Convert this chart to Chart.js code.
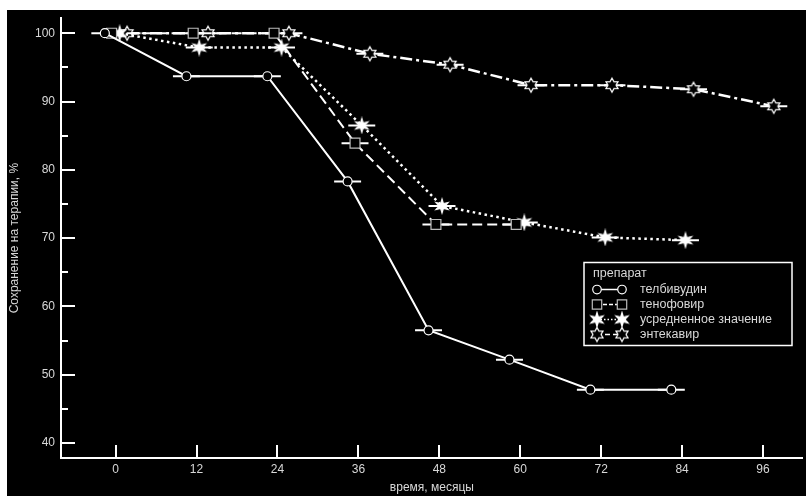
<!DOCTYPE html>
<html>
<head>
<meta charset="utf-8">
<script src="https://cdn.jsdelivr.net/npm/chart.js@4/dist/chart.umd.min.js"></script>
<style>
  html, body { margin: 0; padding: 0; background: #fff; overflow: hidden; }
  #wrap { position: absolute; left: 7px; top: 10px; width: 804px; height: 486px; }
</style>
</head>
<body>
<div id="wrap"><canvas id="chart" width="804" height="486"></canvas></div>
<script>
const xTicks = [0, 12, 24, 36, 48, 60, 72, 84, 96];
const yTicks = [40, 50, 60, 70, 80, 90, 100];
const yMinorTicks = [45, 55, 65, 75, 85, 95];

// months are slightly shifted per drug in the original, kept as read
const telbivudinMonths = [-1.6, 10.5, 22.5, 34.4, 46.4, 58.4, 70.4, 82.4];
const telbivudinValues = [100, 93.7, 93.7, 78.3, 56.5, 52.2, 47.8, 47.8];
const tenofovirMonths = [-0.6, 11.5, 23.5, 35.5, 47.5, 59.4];
const tenofovirValues = [100, 100, 100, 83.9, 72.0, 72.0];
const averageMonths = [0.6, 12.4, 24.6, 36.5, 48.4, 60.6, 72.6, 84.5];
const averageValues = [100, 97.9, 97.9, 86.5, 74.7, 72.3, 70.1, 69.7];
const entecavirMonths = [1.7, 13.7, 25.7, 37.7, 49.6, 61.6, 73.6, 85.7, 97.6];
const entecavirValues = [100, 100, 100, 97.0, 95.4, 92.4, 92.4, 91.8, 89.3];
const monthError = 2; // half width of the horizontal bars

const legendTitle = 'препарат';
const font = 'Liberation Sans';
const textColor = '#d8d8d8';

function makeStar(outer, inner, filled) {
    const size = Math.ceil(outer * 2 + 4);
    const c = document.createElement('canvas');
    c.width = size;
    c.height = size;
    const g = c.getContext('2d');
    g.translate(size / 2, size / 2);
    g.beginPath();
    for (let i = 0; i < 12; i++) {
        const r = i % 2 === 0 ? outer : inner;
        const a = -Math.PI / 2 + i * Math.PI / 6;
        g.lineTo(r * Math.cos(a), r * Math.sin(a));
    }
    g.closePath();
    g.fillStyle = filled ? '#fff' : '#000';
    g.fill();
    g.strokeStyle = '#fff';
    g.lineWidth = 1.2;
    g.stroke();
    return c;
}

const filledStar = makeStar(7, 2.8, true);
const openStar = makeStar(7, 4, false);

function toPoints(months, values) {
    return months.map((m, i) => ({ x: m, y: values[i] }));
}

const datasets = [
    {
        label: 'телбивудин',
        data: toPoints(telbivudinMonths, telbivudinValues),
        borderColor: '#fff',
        borderWidth: 2,
        pointStyle: 'circle',
        pointRadius: 4.5,
        pointBackgroundColor: '#000',
        pointBorderColor: '#fff',
        pointBorderWidth: 1.2,
        legendDash: []
    },
    {
        label: 'тенофовир',
        data: toPoints(tenofovirMonths, tenofovirValues),
        borderColor: '#fff',
        borderWidth: 2,
        borderDash: [10, 5],
        pointStyle: 'rect',
        pointRadius: 7,
        pointBackgroundColor: '#000',
        pointBorderColor: '#bbb',
        pointBorderWidth: 1.2,
        legendDash: [4, 2]
    },
    {
        label: 'усредненное значение',
        data: toPoints(averageMonths, averageValues),
        borderColor: '#fff',
        borderWidth: 2.5,
        borderDash: [2.5, 3.5],
        pointStyle: filledStar,
        legendDash: [1.5, 2]
    },
    {
        label: 'энтекавир',
        data: toPoints(entecavirMonths, entecavirValues),
        borderColor: '#fff',
        borderWidth: 2.5,
        borderDash: [12, 4, 3, 4],
        pointStyle: openStar,
        legendDash: [5, 3]
    }
];

const backgroundPlugin = {
    id: 'blackBackground',
    beforeDraw(chart) {
        const ctx = chart.ctx;
        ctx.save();
        ctx.fillStyle = '#000';
        ctx.fillRect(0, 0, chart.width, chart.height);
        ctx.restore();
    }
};

// inward tick marks and horizontal time bars
const marksPlugin = {
    id: 'marks',
    beforeDatasetsDraw(chart) {
        const ctx = chart.ctx;
        const xs = chart.scales.x;
        const ys = chart.scales.y;
        const area = chart.chartArea;
        ctx.save();
        ctx.strokeStyle = '#fff';
        ctx.lineWidth = 2;
        ctx.beginPath();
        yTicks.forEach(v => {
            const py = Math.round(ys.getPixelForValue(v));
            ctx.moveTo(area.left, py);
            ctx.lineTo(area.left + 14, py);
        });
        yMinorTicks.forEach(v => {
            const py = Math.round(ys.getPixelForValue(v));
            ctx.moveTo(area.left, py);
            ctx.lineTo(area.left + 7, py);
        });
        xTicks.forEach(v => {
            const px = Math.round(xs.getPixelForValue(v));
            ctx.moveTo(px, area.bottom);
            ctx.lineTo(px, area.bottom - 13);
        });
        ctx.stroke();

        ctx.beginPath();
        chart.data.datasets.forEach(ds => {
            ds.data.forEach(p => {
                const py = ys.getPixelForValue(p.y);
                ctx.moveTo(xs.getPixelForValue(p.x - monthError), py);
                ctx.lineTo(xs.getPixelForValue(p.x + monthError), py);
            });
        });
        ctx.stroke();
        ctx.restore();
    }
};

const legendPlugin = {
    id: 'boxLegend',
    afterDraw(chart) {
        const ctx = chart.ctx;
        const left = 577, top = 252.5, width = 208, height = 83;
        ctx.save();
        ctx.strokeStyle = '#fff';
        ctx.lineWidth = 1.5;
        ctx.strokeRect(left, top, width, height);

        ctx.fillStyle = textColor;
        ctx.font = '12.5px "' + font + '"';
        ctx.textBaseline = 'middle';
        ctx.fillText(legendTitle, left + 9, top + 11);

        chart.data.datasets.forEach((ds, i) => {
            const cy = top + 27 + i * 15;
            const x1 = left + 13, x2 = left + 38;
            ctx.strokeStyle = '#fff';
            ctx.lineWidth = 1.5;
            ctx.setLineDash(ds.legendDash);
            ctx.beginPath();
            ctx.moveTo(x1, cy);
            ctx.lineTo(x2, cy);
            ctx.stroke();
            ctx.setLineDash([]);
            [x1, x2].forEach(px => {
                ctx.fillStyle = ds.pointBackgroundColor || '#000';
                ctx.strokeStyle = ds.pointBorderColor || '#fff';
                ctx.lineWidth = ds.pointBorderWidth || 1;
                Chart.helpers.drawPoint(ctx, {
                    pointStyle: ds.pointStyle,
                    radius: ds.pointRadius ? ds.pointRadius * 0.95 : 5,
                    rotation: 0,
                    borderWidth: ds.pointBorderWidth || 1
                }, px, cy);
            });
            ctx.fillStyle = textColor;
            ctx.fillText(ds.label, left + 56, cy);
        });
        ctx.restore();
    }
};

const tickFont = { family: font, size: 12 };

new Chart(document.getElementById('chart'), {
    type: 'line',
    data: { datasets: datasets },
    options: {
        responsive: false,
        animation: false,
        devicePixelRatio: 1,
        layout: { padding: { top: 7, right: 0, left: 0, bottom: 0 } },
        plugins: {
            legend: { display: false },
            tooltip: { enabled: false }
        },
        elements: { line: { tension: 0 } },
        scales: {
            x: {
                type: 'linear',
                min: -8.1,
                max: 101.9,
                afterBuildTicks: s => { s.ticks = xTicks.map(v => ({ value: v })); },
                afterFit: s => { s.height = 38; s.paddingLeft = 0; s.paddingRight = 0; },
                grid: { display: false, drawTicks: false },
                border: { color: '#fff', width: 2 },
                ticks: { color: textColor, font: tickFont, padding: 4, maxRotation: 0, autoSkip: false },
                title: { display: true, text: 'время, месяцы', color: textColor, font: tickFont, padding: { top: 0, bottom: 1 } }
            },
            y: {
                type: 'linear',
                min: 37.8,
                max: 102.2,
                afterBuildTicks: s => { s.ticks = yTicks.map(v => ({ value: v })); },
                afterFit: s => { s.width = 54; s.paddingTop = 0; s.paddingBottom = 0; },
                grid: { display: false, drawTicks: false },
                border: { color: '#fff', width: 2 },
                ticks: { color: textColor, font: tickFont, padding: 6 },
                title: { display: true, text: 'Сохранение на терапии, %', color: textColor, font: tickFont, padding: { top: 0, bottom: 0 } }
            }
        }
    },
    plugins: [backgroundPlugin, marksPlugin, legendPlugin]
});
</script>
</body>
</html>
